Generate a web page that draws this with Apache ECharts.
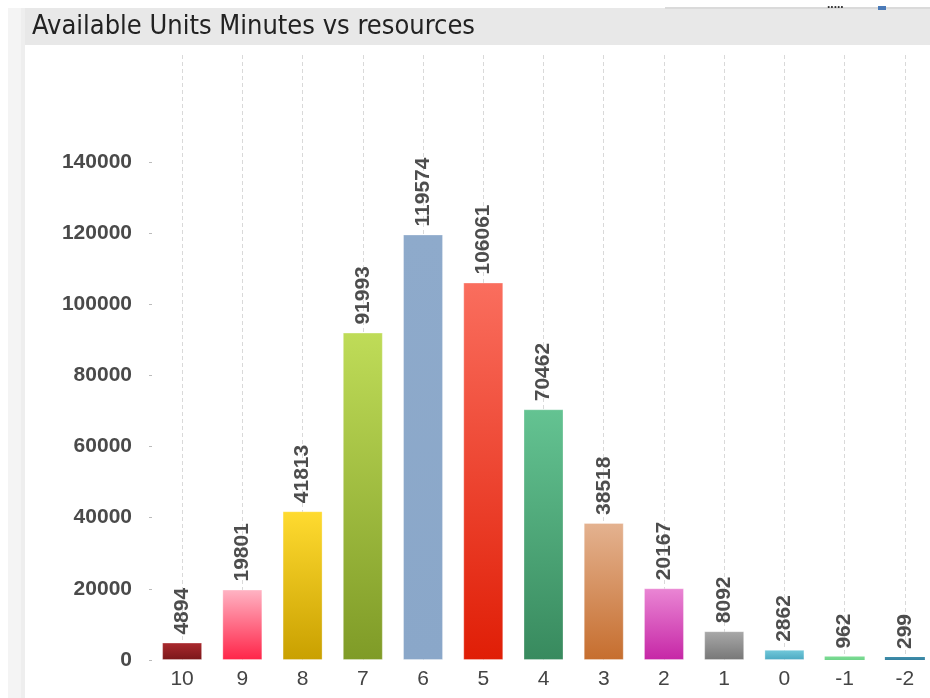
<!DOCTYPE html>
<html>
<head>
<meta charset="utf-8">
<script src="https://cdn.jsdelivr.net/npm/echarts@6/dist/echarts.min.js"></script>
<style>
  html, body { margin: 0; padding: 0; background: #ffffff; overflow: hidden; width: 930px; height: 698px; }
  #chart { width: 935px; height: 698px; }
</style>
</head>
<body>
<div id="chart"></div>
<script>
// ---- data ----
var titleText = 'Available Units Minutes vs resources';
var categories = ['10', '9', '8', '7', '6', '5', '4', '3', '2', '1', '0', '-1', '-2'];
var values = [4894, 19801, 41813, 91993, 119574, 106061, 70462, 38518, 20167, 8092, 2862, 962, 299];
var yTickValues = [0, 20000, 40000, 60000, 80000, 100000, 120000, 140000];

// ---- styles (top, bottom gradient colours per bar) ----
var barTopColors = ['#ab2a2e', '#ffb4c4', '#ffdb30', '#bfdc58', '#8eaacb', '#fa6e5e', '#64c392', '#e4b290', '#ea86d4', '#a9a9a9', '#74cadb', '#7ddc94', '#3f8eab'];
var barBottomColors = ['#7a1719', '#ff2448', '#c9a000', '#7f9b27', '#8aa7c9', '#e01e06', '#388a5e', '#c66e2e', '#c626a6', '#777777', '#4ba9c2', '#6fd48a', '#36819f'];

var chart = echarts.init(document.getElementById('chart'), null, { renderer: 'canvas' });

var barData = values.map(function (v, i) {
  return {
    value: v,
    itemStyle: {
      color: new echarts.graphic.LinearGradient(0, 0, 0, 1, [
        { offset: 0, color: barTopColors[i] },
        { offset: 1, color: barBottomColors[i] }
      ]),
      borderColor: 'rgba(255,255,255,0.3)',
      borderWidth: v > 2000 ? 1 : 0
    }
  };
});

var option = {
  backgroundColor: '#ffffff',
  animation: false,
  graphic: [
    { type: 'rect', z: -10, shape: { x: 8, y: 8, width: 17, height: 690 }, style: { fill: '#f4f4f4' } },
    { type: 'rect', z: -10, shape: { x: 21, y: 8, width: 4, height: 690 }, style: { fill: '#eeeeee' } },
    { type: 'rect', z: -10, shape: { x: 25, y: 8, width: 910, height: 37 }, style: { fill: '#e8e8e8' } },
    { type: 'rect', z: -10, shape: { x: 665, y: 7, width: 270, height: 2 }, style: { fill: '#dadada' } },
    { type: 'text', z: 10, left: 827, top: -1, style: { text: '.....', fill: '#333333', font: 'bold 12px "Liberation Sans"' } },
    { type: 'rect', z: 10, shape: { x: 878, y: 6, width: 8, height: 4 }, style: { fill: '#4a7ab8' } }
  ],
  title: {
    text: titleText,
    left: 27,
    top: 8,
    textStyle: {
      fontFamily: '"Liberation Sans Narrow", "DejaVu Sans Condensed", sans-serif',
      fontSize: 27,
      fontWeight: 'normal',
      color: '#222222'
    }
  },
  grid: {
    left: 152,
    right: 0,
    top: 55,
    bottom: 38,
    containLabel: false
  },
  xAxis: {
    type: 'category',
    data: categories,
    axisLine: { show: false },
    axisTick: { show: false },
    axisLabel: {
      interval: 0,
      margin: 9,
      fontFamily: '"Liberation Sans", Arial, sans-serif',
      fontSize: 21,
      color: '#444444'
    },
    splitLine: {
      show: true,
      interval: 0,
      alignWithLabel: true,
      lineStyle: { color: '#d9d9d9', type: [4, 3], width: 1 }
    }
  },
  yAxis: {
    type: 'value',
    min: 0,
    max: 170000,
    interval: 10000,
    axisLine: { show: false },
    axisTick: {
      show: true,
      length: 3,
      customValues: yTickValues,
      lineStyle: { color: '#bbbbbb' }
    },
    splitLine: { show: false },
    axisLabel: {
      customValues: yTickValues,
      formatter: function (v) { return String(v); },
      margin: 20,
      fontFamily: '"Liberation Sans", Arial, sans-serif',
      fontSize: 21,
      fontWeight: 'bold',
      color: '#4a4a4a'
    }
  },
  series: [{
    type: 'bar',
    data: barData,
    barWidth: 40,
    barMinHeight: 3,
    label: {
      show: true,
      position: 'top',
      rotate: 90,
      align: 'left',
      verticalAlign: 'middle',
      distance: 8,
      fontFamily: '"Liberation Sans", Arial, sans-serif',
      fontSize: 21,
      fontWeight: 'bold',
      color: '#4d4d4d'
    }
  }]
};

chart.setOption(option);
</script>
</body>
</html>
